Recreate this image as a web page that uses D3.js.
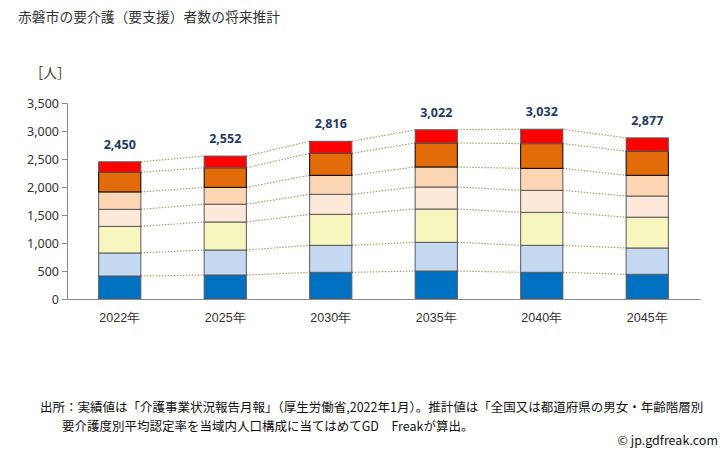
<!DOCTYPE html>
<html><head><meta charset="utf-8">
<script src="https://cdn.jsdelivr.net/npm/d3@7"></script>
<style>body{margin:0;background:#fff}svg{font-family:"Noto Sans CJK JP","Noto Sans",sans-serif}</style>
</head><body>
<svg id="c" width="728" height="450"></svg>
<script>
const years = ["2022年","2025年","2030年","2035年","2040年","2045年"];
const seriesNames = ["要支援1","要支援2","要介護1","要介護2","要介護3","要介護4","要介護5"];
const shien1 = [411,429,476,500,476,441];
const shien2 = [411,446,482,512,482,470];
const kaigo1 = [475,500,554,595,589,550];
const kaigo2 = [304,318,357,393,393,378];
const kaigo3 = [311,300,339,357,393,370];
const kaigo4 = [352,350,394,430,442,432];
const kaigo5 = [186,209,214,235,257,236];
const totals = [2450,2552,2816,3022,3032,2877];
const yTicks = [0,500,1000,1500,2000,2500,3000,3500];
const colors = ["#0070C0","#C5D9F1","#F7F6BF","#FDE9D9","#FCD5B4","#E26B0A","#FF0000"];

const svg = d3.select("#c");
const x = d3.scaleBand().domain(years).range([67,700]).paddingInner(0.6).paddingOuter(0.3);
const y = d3.scaleLinear().domain([0,3500]).range([299,103]);

const rows = years.map((yr,i)=>{const o={year:yr};[shien1,shien2,kaigo1,kaigo2,kaigo3,kaigo4,kaigo5].forEach((a,k)=>o[seriesNames[k]]=a[i]);return o;});
const stack = d3.stack().keys(seriesNames)(rows);

// title
svg.append("text").attr("x",18).attr("y",22).attr("font-size",13.8).attr("fill","#333").text("赤磐市の要介護（要支援）者数の将来推計");
svg.append("text").attr("x",30).attr("y",78).attr("font-size",13.5).attr("fill","#333").text("［人］");

// connector lines
stack.forEach((s)=>{
  for(let i=0;i<years.length-1;i++){
    svg.append("line")
      .attr("x1",x(years[i])+x.bandwidth()).attr("x2",x(years[i+1]))
      .attr("y1",y(s[i][1])).attr("y2",y(s[i+1][1]))
      .attr("stroke","#A89F6E").attr("stroke-width",1.2).attr("stroke-dasharray","1.5,1.5");
  }
});

// bars
stack.forEach((s,k)=>{
  svg.append("g").selectAll("rect").data(s).join("rect")
    .attr("x",d=>x(d.data.year)).attr("width",x.bandwidth())
    .attr("y",d=>y(d[1])).attr("height",d=>y(d[0])-y(d[1]))
    .attr("fill",colors[k]).attr("stroke",k===5?"#000":"#595959").attr("stroke-width",1);
});

// axes
const ya = svg.append("g").attr("transform","translate(67,0)")
  .call(d3.axisLeft(y).tickValues(yTicks).tickSize(5).tickFormat(d3.format(",")));
ya.select(".domain").attr("stroke","#888");
ya.selectAll(".tick line").attr("stroke","#888");
ya.selectAll("text").attr("font-size",12.5).attr("fill","#333").attr("font-family","'Noto Sans',sans-serif");
const xa = svg.append("g").attr("transform","translate(0,299)")
  .call(d3.axisBottom(x).tickSize(0).tickPadding(14));
xa.select(".domain").attr("stroke","#888");
xa.selectAll("text").attr("font-size",12.5).attr("fill","#333");

// totals
svg.append("g").selectAll("text").data(totals).join("text")
  .attr("x",(d,i)=>x(years[i])+x.bandwidth()/2).attr("y",(d,i)=>y(d)-13)
  .attr("text-anchor","middle").attr("font-size",12.5).attr("font-weight","bold")
  .attr("fill","#1F3864").attr("font-family","'Noto Sans',sans-serif").text(d3.format(","));

// footer
svg.append("text").attr("x",40).attr("y",412).attr("font-size",12.5).attr("fill","#111")
  .text("出所：実績値は「介護事業状況報告月報」（厚生労働省,2022年1月）。推計値は「全国又は都道府県の男女・年齢階層別");
svg.append("text").attr("x",62).attr("y",431).attr("font-size",12.5).attr("fill","#111")
  .text("要介護度別平均認定率を当域内人口構成に当てはめてGD　Freakが算出。");
svg.append("text").attr("x",718).attr("y",445).attr("text-anchor","end").attr("font-size",12.5).attr("fill","#111")
  .text("© jp.gdfreak.com");
</script>
</body></html>
